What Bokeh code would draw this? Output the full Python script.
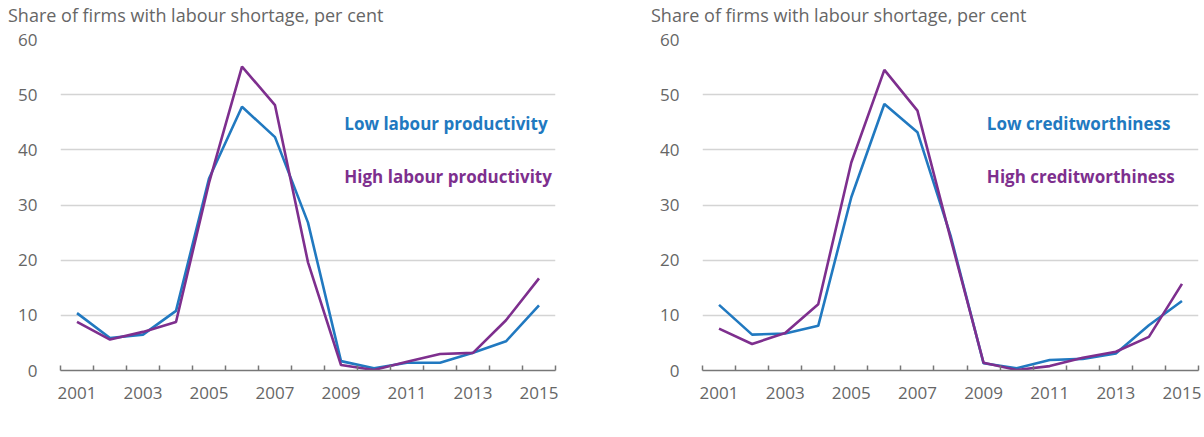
from bokeh.plotting import figure
from bokeh.layouts import row, column
from bokeh.models import FixedTicker, Label, Div
from bokeh.embed import file_html
from bokeh.resources import INLINE

years = list(range(2001, 2016))
label_years = [2001, 2003, 2005, 2007, 2009, 2011, 2013, 2015]
y_ticks = [0, 10, 20, 30, 40, 50, 60]

low_productivity = [10.4, 5.9, 6.5, 10.8, 34.8, 47.8, 42.3, 26.8, 1.7, 0.4, 1.4, 1.4, 3.2, 5.3, 11.8]
high_productivity = [8.8, 5.6, 7.0, 8.8, 34.0, 55.1, 48.1, 19.6, 1.0, 0.1, 1.6, 3.0, 3.2, 9.1, 16.7]

low_credit = [11.9, 6.5, 6.7, 8.1, 31.4, 48.3, 43.2, 24.5, 1.3, 0.4, 1.9, 2.1, 3.1, 8.2, 12.6]
high_credit = [7.6, 4.8, 6.8, 12.0, 37.7, 54.5, 47.1, 24.0, 1.4, 0.1, 0.8, 2.3, 3.4, 6.1, 15.7]

title_text = "Share of firms with labour shortage, per cent"

BLUE = "#2179c0"
PURPLE = "#7e2f8e"
GRAY = "#666666"
FONT = "Open Sans"


def make_title(width, pad_left):
    return Div(text=title_text, width=width, height=26,
               styles={"font-family": "'Open Sans', sans-serif", "font-size": "18px",
                       "color": GRAY, "line-height": "22px", "padding-left": f"{pad_left}px",
                       "padding-top": "4px", "margin": "0", "white-space": "nowrap",
                       "box-sizing": "border-box"})


def make_panel(low, high, low_name, high_name, fw, left, right):
    p = figure(frame_width=fw, frame_height=331, output_backend="svg", toolbar_location=None,
               x_range=(years[0] - 0.5, years[-1] + 0.5), y_range=(0, 60),
               min_border_left=left, min_border_right=right,
               min_border_top=13, min_border_bottom=58)
    p.outline_line_color = None
    p.background_fill_color = "white"
    p.border_fill_color = "white"

    # x axis: ticks between years, labels every other year
    xt = FixedTicker(ticks=label_years, minor_ticks=[y - 0.5 for y in years] + [years[-1] + 0.5])
    p.xaxis.ticker = xt
    p.xaxis.major_tick_line_color = None
    p.xaxis.minor_tick_line_color = "#777777"
    p.xaxis.minor_tick_in = 5
    p.xaxis.minor_tick_out = 0
    p.xaxis.minor_tick_line_width = 1.5
    p.xaxis.axis_line_color = "#777777"
    p.xaxis.axis_line_width = 1.5
    p.xaxis.major_label_standoff = 10
    p.xaxis.major_label_text_font = FONT
    p.xaxis.major_label_text_font_size = "17px"
    p.xaxis.major_label_text_color = GRAY

    p.yaxis.ticker = FixedTicker(ticks=y_ticks)
    p.yaxis.axis_line_color = None
    p.yaxis.major_tick_line_color = None
    p.yaxis.minor_tick_line_color = None
    p.yaxis.major_label_standoff = 17
    p.yaxis.major_label_text_font = FONT
    p.yaxis.major_label_text_font_size = "17px"
    p.yaxis.major_label_text_color = GRAY

    p.xgrid.grid_line_color = None
    p.ygrid.grid_line_color = "#d4d4d4"
    p.ygrid.grid_line_width = 1.5
    p.ygrid.ticker = FixedTicker(ticks=y_ticks[1:])

    p.line(years, low, line_color=BLUE, line_width=2.6)
    p.line(years, high, line_color=PURPLE, line_width=2.6)

    p.add_layout(Label(x=2009.1, y=44.8, text=low_name, text_color=BLUE, text_font=FONT,
                       text_font_size="17px", text_font_style="bold", text_baseline="middle"))
    p.add_layout(Label(x=2009.1, y=35.2, text=high_name, text_color=PURPLE, text_font=FONT,
                       text_font_size="17px", text_font_style="bold", text_baseline="middle"))
    return p


p1 = make_panel(low_productivity, high_productivity, "Low labour productivity",
                "High labour productivity", 495, 60, 96)
p2 = make_panel(low_credit, high_credit, "Low creditworthiness",
                "High creditworthiness", 496, 51, 4)

t1 = make_title(651, 8)
t2 = make_title(551, 0)

layout = column(row(t1, t2), row(p1, p2))
open("out.html", "w").write(file_html(layout, INLINE))
